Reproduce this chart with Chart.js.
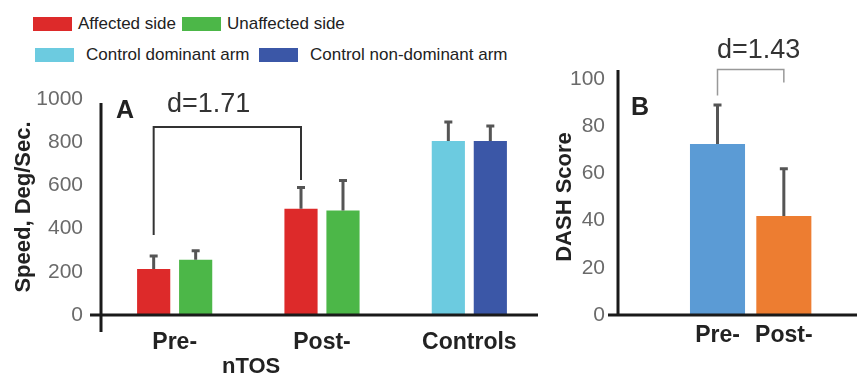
<!DOCTYPE html>
<html lang="en">
<head>
  <meta charset="UTF-8" />
  <title>nTOS speed and DASH score</title>
  <script src="https://cdn.jsdelivr.net/npm/chart.js"></script>
  <style>
    body {
      margin: 0;
      background: #ffffff;
      font-family: "Liberation Sans", Arial, sans-serif;
    }
    .wrap {
      position: relative;
      width: 857px;
      height: 378px;
      overflow: hidden;
      background: #ffffff;
    }
    canvas { position: absolute; }
    #chartA { left: 0; top: 60px; }
    #chartB { left: 550px; top: 30px; }
    .box { position: absolute; width: 39px; height: 14px; }
    .lbl { position: absolute; font-size: 17px; line-height: 20px; color: #222; white-space: nowrap; }
    .mark { position: absolute; font-weight: bold; line-height: 1; color: #222; white-space: nowrap; }
    .dval { position: absolute; line-height: 1; color: #333; white-space: nowrap; }
  </style>
</head>
<body>
<div class="wrap">
  <!-- legend -->
  <div class="box" style="left:33px; top:17px; background:#dd2a2a;"></div>
  <div class="lbl" style="left:78px; top:14px;">Affected side</div>
  <div class="box" style="left:182px; top:17px; background:#4cb748;"></div>
  <div class="lbl" style="left:227px; top:14px;">Unaffected side</div>
  <div class="box" style="left:35px; top:48px; background:#6ccbe0;"></div>
  <div class="lbl" style="left:86px; top:45px;">Control dominant arm</div>
  <div class="box" style="left:259px; top:48px; background:#3b57a7;"></div>
  <div class="lbl" style="left:310px; top:45px;">Control non-dominant arm</div>

  <canvas id="chartA" width="560" height="318"></canvas>
  <canvas id="chartB" width="307" height="348"></canvas>

  <!-- panel marks and effect sizes -->
  <div class="mark" style="left:116px; top:97px; font-size:25px;">A</div>
  <div class="dval" style="left:167px; top:90px; font-size:27px;">d=1.71</div>
  <div class="mark" style="left:222px; top:355px; font-size:22px;">nTOS</div>
  <div class="mark" style="left:631px; top:94px; font-size:25px;">B</div>
  <div class="dval" style="left:717px; top:36px; font-size:27px;">d=1.43</div>
</div>

<script>
  // Panel A : vitesse (Deg/Sec)
  const groupsA = ['Pre-', 'Post-', 'Controls'];
  const firstMeans = [213, 492, 805];   // affected side / control dominant
  const firstSD = [60, 98, 88];
  const secondMeans = [256, 484, 805];  // unaffected side / control non-dominant
  const secondSD = [42, 139, 70];
  const firstColors = ['#dd2a2a', '#dd2a2a', '#6ccbe0'];
  const secondColors = ['#4cb748', '#4cb748', '#3b57a7'];
  const bracketA = [370, 870, 625];     // left foot, top, right foot

  // Panel B : DASH score
  const groupsB = ['', 'Pre-', 'Post-'];
  const dashMeans = [null, 72.5, 42];
  const dashSD = [0, 16.5, 20];
  const dashColors = ['#5b9bd5', '#5b9bd5', '#ed7d31'];
  const bracketB = [93, 104, 98.5];

  // barres d'erreur, axes et crochet
  const extras = {
    id: 'extras',
    afterDatasetsDraw(chart, args, opts) {
      const { ctx, chartArea: area, scales: { x, y } } = chart;
      ctx.save();

      ctx.strokeStyle = '#555';
      ctx.lineWidth = 3;
      chart.data.datasets.forEach((ds, i) => {
        chart.getDatasetMeta(i).data.forEach((bar, j) => {
          const v = ds.data[j];
          if (v == null) return;
          const top = y.getPixelForValue(v + ds.sd[j]);
          ctx.beginPath();
          ctx.moveTo(bar.x, bar.y);
          ctx.lineTo(bar.x, top);
          ctx.moveTo(bar.x - 4, top);
          ctx.lineTo(bar.x + 4, top);
          ctx.stroke();
        });
      });

      const y0 = y.getPixelForValue(0);
      ctx.strokeStyle = '#1a1a1a';
      ctx.lineWidth = 3;
      ctx.beginPath();
      ctx.moveTo(area.left, area.top + opts.yTop);
      ctx.lineTo(area.left, y0 + opts.yBelow);
      ctx.moveTo(area.left - opts.xBefore, y0);
      ctx.lineTo(opts.toEdge ? chart.width : area.right - 5, y0);
      ctx.stroke();

      const b = opts.bracket;
      const bars = chart.getDatasetMeta(0).data;
      const xl = bars[opts.from].x, xr = bars[opts.to].x;
      ctx.strokeStyle = opts.bracketColor;
      ctx.lineWidth = opts.bracketWidth;
      ctx.beginPath();
      ctx.moveTo(xl, y.getPixelForValue(b[0]));
      ctx.lineTo(xl, y.getPixelForValue(b[1]));
      ctx.lineTo(xr, y.getPixelForValue(b[1]));
      ctx.lineTo(xr, y.getPixelForValue(b[2]));
      ctx.stroke();

      ctx.restore();
    }
  };

  const font = '"Liberation Sans", Arial, sans-serif';

  new Chart(document.getElementById('chartA'), {
    type: 'bar',
    data: {
      labels: groupsA,
      datasets: [
        { label: 'Affected side', data: firstMeans, sd: firstSD, backgroundColor: firstColors },
        { label: 'Unaffected side', data: secondMeans, sd: secondSD, backgroundColor: secondColors }
      ]
    },
    options: {
      responsive: false,
      animation: false,
      categoryPercentage: 0.57,
      barPercentage: 0.79,
      layout: { padding: { left: 0, right: 17, top: 39, bottom: 0 } },
      plugins: {
        legend: { display: false },
        tooltip: { enabled: false },
        extras: {
          yTop: 4, yBelow: 17, xBefore: 11, toEdge: false,
          bracket: bracketA, from: 0, to: 1,
          bracketColor: '#333', bracketWidth: 2
        }
      },
      scales: {
        x: {
          grid: { display: false, drawTicks: false },
          border: { display: false },
          ticks: { color: '#222', padding: 14, font: { family: font, size: 23, weight: 'bold' } },
          afterFit: (s) => { s.height = 63; }
        },
        y: {
          min: 0, max: 1000,
          grid: { display: false, drawTicks: false },
          border: { display: false },
          ticks: {
            stepSize: 200, color: '#6a6a6a', padding: 18,
            font: { family: font, size: 21 },
            callback: (v) => String(v)
          },
          title: {
            display: true, text: 'Speed, Deg/Sec.', color: '#222',
            padding: { top: 11, bottom: 0 },
            font: { family: font, size: 22, weight: 'bold' }
          },
          afterFit: (s) => { s.width = 101; }
        }
      }
    },
    plugins: [extras]
  });

  new Chart(document.getElementById('chartB'), {
    type: 'bar',
    data: {
      labels: groupsB,
      datasets: [
        { label: 'DASH', data: dashMeans, sd: dashSD, backgroundColor: dashColors }
      ]
    },
    options: {
      responsive: false,
      animation: false,
      categoryPercentage: 1,
      barPercentage: 0.83,
      layout: { padding: { left: 0, right: 40, top: 49, bottom: 0 } },
      plugins: {
        legend: { display: false },
        tooltip: { enabled: false },
        extras: {
          yTop: -9, yBelow: 0, xBefore: 10, toEdge: true,
          bracket: bracketB, from: 1, to: 2,
          bracketColor: '#999', bracketWidth: 1.5
        }
      },
      scales: {
        x: {
          grid: { display: false, drawTicks: false },
          border: { display: false },
          ticks: { color: '#222', padding: 7, font: { family: font, size: 23, weight: 'bold' } },
          afterFit: (s) => { s.height = 63; }
        },
        y: {
          min: 0, max: 100,
          grid: { display: false, drawTicks: false },
          border: { display: false },
          ticks: {
            stepSize: 20, color: '#6a6a6a', padding: 13,
            font: { family: font, size: 21 },
            callback: (v) => String(v)
          },
          title: {
            display: true, text: 'DASH Score', color: '#222',
            padding: { top: 2, bottom: 0 },
            font: { family: font, size: 22, weight: 'bold' }
          },
          afterFit: (s) => { s.width = 68; }
        }
      }
    },
    plugins: [extras]
  });
</script>
</body>
</html>
